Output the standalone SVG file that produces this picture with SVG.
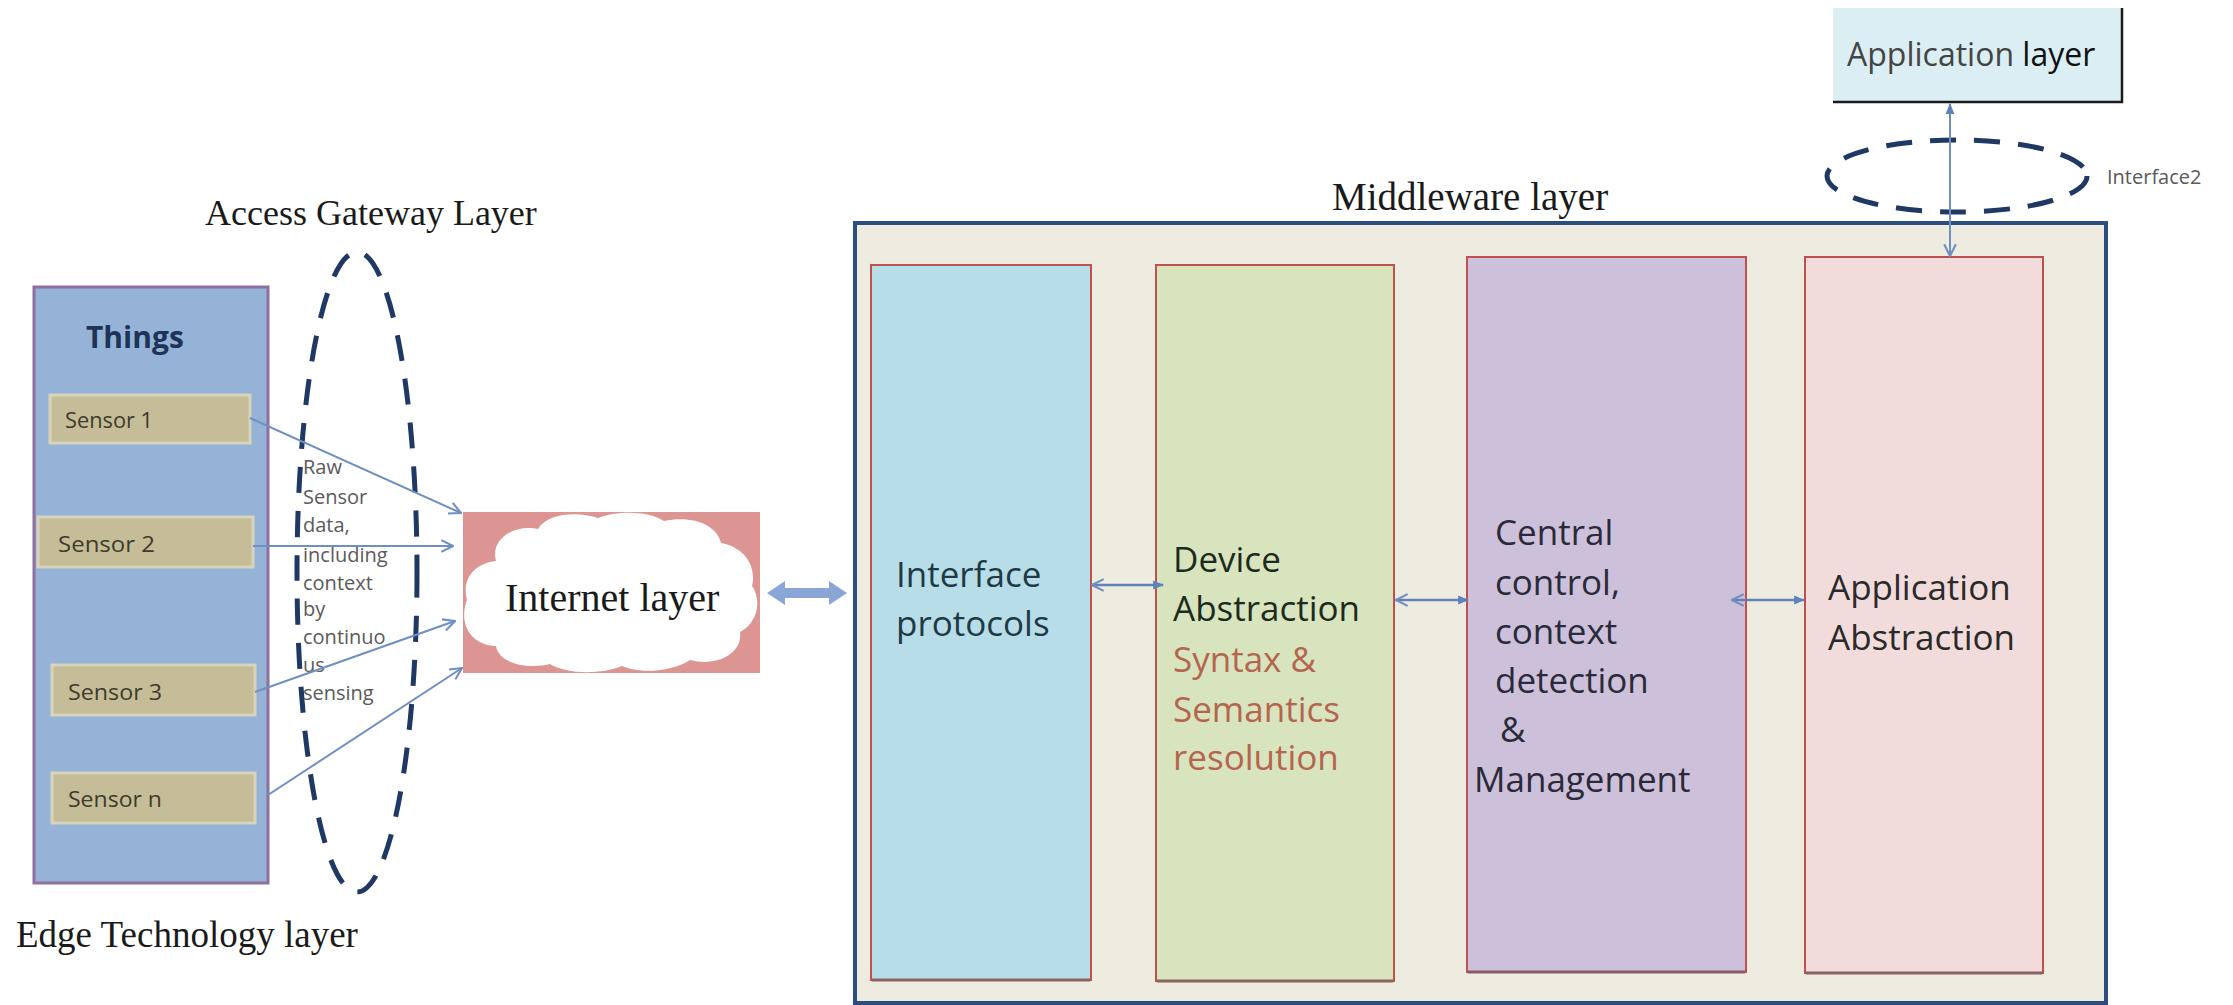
<svg xmlns="http://www.w3.org/2000/svg" width="2233" height="1005" viewBox="0 0 2233 1005">
  <style>
    .serif { font-family: "Liberation Serif", "Times New Roman", serif; fill: #1a1a1a; }
    .sans { font-family: "Open Sans", "Liberation Sans", Arial, sans-serif; }
    .sensor-box { fill: #c4bd97; stroke: #d9d3bb; stroke-width: 3; }
    .sensor-txt { font-family: "Open Sans", "Liberation Sans", sans-serif; font-size: 21px; fill: #3f3b2c; }
    .feed { stroke: #6f8fc0; stroke-width: 2; fill: none; }
    .link { stroke: #5f82b8; stroke-width: 2.5; fill: none; }
    .module { stroke: #c0504d; stroke-width: 2; }
    .mod-txt { font-family: "Open Sans", "Liberation Sans", sans-serif; font-size: 35px; }
    .gate { fill: none; stroke: #1f3864; stroke-width: 5; stroke-dasharray: 26 18; }
    .note { font-family: "Open Sans", "Liberation Sans", sans-serif; font-size: 20px; fill: #5a5a5a; }
  </style>
  <defs>
    <marker id="openHead" viewBox="0 0 12 12" refX="11" refY="6" markerWidth="14" markerHeight="14" orient="auto-start-reverse" markerUnits="userSpaceOnUse">
      <path d="M1,1 L11,6 L1,11" fill="none" stroke="#6f8fc0" stroke-width="1.8"/>
    </marker>
    <marker id="solidHead" viewBox="0 0 10 10" refX="9" refY="5" markerWidth="11" markerHeight="11" orient="auto-start-reverse" markerUnits="userSpaceOnUse">
      <path d="M0,1 L10,5 L0,9 Z" fill="#5f82b8"/>
    </marker>
    <clipPath id="netClip">
      <rect x="463" y="512" width="297" height="161"/>
    </clipPath>
  </defs>

  <rect width="2233" height="1005" fill="#ffffff"/>

  <!-- Edge technology layer: things with sensors -->
  <g id="things">
    <rect x="34" y="287" width="234" height="596" fill="#95b3d7" stroke="#8f6f9f" stroke-width="3"/>
    <text x="86" y="348" font-family="'Open Sans', 'Liberation Sans', sans-serif" font-weight="bold" font-size="30" fill="#1f3358">Things</text>
  </g>
  <g id="sensor-1">
    <rect class="sensor-box" x="50" y="395" width="200" height="48"/>
    <text class="sensor-txt" x="65" y="428" textLength="88" lengthAdjust="spacingAndGlyphs">Sensor 1</text>
  </g>
  <g id="sensor-2">
    <rect class="sensor-box" x="38" y="517" width="215" height="50"/>
    <text class="sensor-txt" x="58" y="552" textLength="97" lengthAdjust="spacingAndGlyphs">Sensor  2</text>
  </g>
  <g id="sensor-3">
    <rect class="sensor-box" x="52" y="665" width="203" height="50"/>
    <text class="sensor-txt" x="68" y="700" textLength="94" lengthAdjust="spacingAndGlyphs">Sensor  3</text>
  </g>
  <g id="sensor-n">
    <rect class="sensor-box" x="52" y="773" width="203" height="50"/>
    <text class="sensor-txt" x="68" y="807" textLength="94" lengthAdjust="spacingAndGlyphs">Sensor  n</text>
  </g>
  <g id="edge-label">
    <text class="serif" x="16" y="947" font-size="37">Edge Technology layer</text>
  </g>

  <!-- Access gateway layer -->
  <g id="access-gateway">
    <ellipse class="gate" cx="357" cy="572" rx="60" ry="320"/>
    <text class="serif" x="205" y="225" font-size="36">Access Gateway Layer</text>
    <g class="note" font-size="21">
      <text x="303" y="474">Raw</text>
      <text x="303" y="504">Sensor</text>
      <text x="303" y="532">data,</text>
      <text x="303" y="562">including</text>
      <text x="303" y="590">context</text>
      <text x="303" y="616">by</text>
      <text x="303" y="644">continuo</text>
      <text x="303" y="672">us</text>
      <text x="303" y="700">sensing</text>
    </g>
  </g>

  <!-- Internet layer -->
  <g id="internet">
    <rect x="463" y="512" width="297" height="161" fill="#dc9592"/>
    <path clip-path="url(#netClip)" fill="#ffffff" d="M467,600 C461,578 476,563 496,561 C490,539 514,524 538,529 C547,513 578,511 598,518 C618,510 650,511 664,521 C691,515 717,524 721,543 C744,547 757,566 752,586 C763,602 756,624 740,632 C743,654 716,667 690,660 C672,672 640,674 622,666 C600,675 566,674 550,664 C525,670 498,662 496,646 C471,645 458,624 467,600 Z"/>
    <text class="serif" x="505" y="611" font-size="40">Internet layer</text>
  </g>

  <!-- Middleware layer -->
  <g id="middleware">
    <rect x="855" y="223" width="1251" height="780" fill="#eeece1" stroke="#2c4d7f" stroke-width="4"/>
    <text class="serif" x="1332" y="210" font-size="39">Middleware layer</text>
  </g>
  <g id="interface-protocols">
    <rect class="module" x="871" y="265" width="220" height="715" fill="#b7dde8"/>
    <line x1="872" y1="980" x2="1090" y2="980" stroke="#8a6262" stroke-width="3"/>
    <text class="mod-txt" fill="#1f3a45" x="896" y="587">Interface</text>
    <text class="mod-txt" fill="#1f3a45" x="896" y="636">protocols</text>
  </g>
  <g id="device-abstraction">
    <rect class="module" x="1156" y="265" width="238" height="716" fill="#d7e4bd"/>
    <line x1="1157" y1="981" x2="1393" y2="981" stroke="#8a6262" stroke-width="3"/>
    <text class="mod-txt" fill="#1f2a1f" x="1173" y="572">Device</text>
    <text class="mod-txt" fill="#1f2a1f" x="1173" y="621">Abstraction</text>
    <text class="mod-txt" fill="#b5654f" x="1173" y="672">Syntax &amp;</text>
    <text class="mod-txt" fill="#b5654f" x="1173" y="722">Semantics</text>
    <text class="mod-txt" fill="#b5654f" x="1173" y="770">resolution</text>
  </g>
  <g id="central-control">
    <rect class="module" x="1467" y="257" width="279" height="715" fill="#ccc0da"/>
    <line x1="1468" y1="972" x2="1745" y2="972" stroke="#8a5a6a" stroke-width="3"/>
    <text class="mod-txt" fill="#2a2a38" x="1495" y="545">Central</text>
    <text class="mod-txt" fill="#2a2a38" x="1495" y="595">control,</text>
    <text class="mod-txt" fill="#2a2a38" x="1495" y="644">context</text>
    <text class="mod-txt" fill="#2a2a38" x="1495" y="693">detection</text>
    <text class="mod-txt" fill="#2a2a38" x="1500" y="742">&amp;</text>
    <text class="mod-txt" fill="#2a2a38" x="1474" y="792">Management</text>
  </g>
  <g id="application-abstraction">
    <rect class="module" x="1805" y="257" width="238" height="716" fill="#f2dcdb"/>
    <line x1="1806" y1="973" x2="2042" y2="973" stroke="#8a6262" stroke-width="3"/>
    <text class="mod-txt" fill="#2a2a2a" x="1828" y="600">Application</text>
    <text class="mod-txt" fill="#2a2a2a" x="1828" y="650">Abstraction</text>
  </g>

  <!-- Application layer with interface 2 -->
  <g id="application-layer">
    <rect x="1833" y="8" width="289" height="94" fill="#dbeef4"/>
    <path d="M2122,8 L2122,102 L1833,102" fill="none" stroke="#1a1a1a" stroke-width="2.5"/>
    <text x="1847" y="66" font-family="'Open Sans', 'Liberation Sans', sans-serif" font-size="32"><tspan fill="#444444">Application </tspan><tspan fill="#111111">layer</tspan></text>
  </g>
  <g id="interface2">
    <ellipse class="gate" cx="1957" cy="176" rx="130" ry="36" stroke-dasharray="24 20"/>
    <text class="note" x="2107" y="184" font-size="19" fill="#777777">Interface2</text>
  </g>

  <!-- Connectors -->
  <g id="connectors">
    <line class="feed" x1="250" y1="418" x2="461" y2="513" marker-end="url(#openHead)"/>
    <line class="feed" x1="253" y1="546" x2="453" y2="546" marker-end="url(#openHead)"/>
    <line class="feed" x1="255" y1="692" x2="455" y2="621" marker-end="url(#openHead)"/>
    <line class="feed" x1="268" y1="795" x2="462" y2="668" marker-end="url(#openHead)"/>
    <polygon points="767,593 785,581 785,588 829,588 829,581 847,593 829,605 829,598 785,598 785,605" fill="#8aa6d6"/>
    <line class="link" x1="1092" y1="585" x2="1163" y2="585" marker-start="url(#openHead)" marker-end="url(#solidHead)"/>
    <line class="link" x1="1396" y1="600" x2="1468" y2="600" marker-start="url(#openHead)" marker-end="url(#solidHead)"/>
    <line class="link" x1="1732" y1="600" x2="1804" y2="600" marker-start="url(#openHead)" marker-end="url(#solidHead)"/>
    <line class="feed" x1="1950" y1="104" x2="1950" y2="256" marker-start="url(#solidHead)" marker-end="url(#openHead)"/>
  </g>
</svg>
